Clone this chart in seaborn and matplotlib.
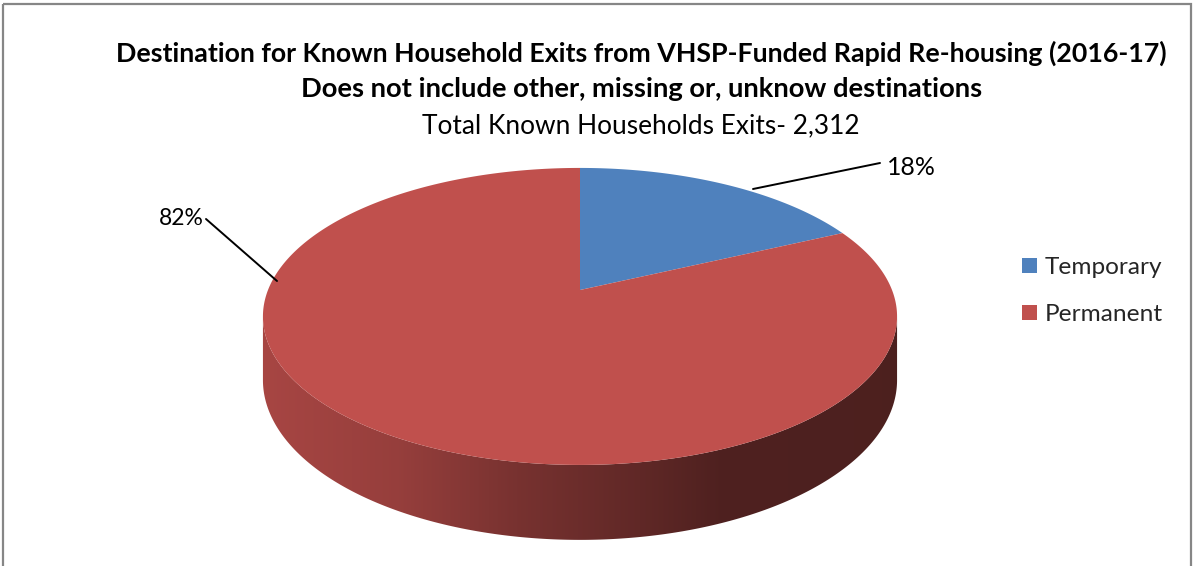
import numpy as np
import matplotlib
matplotlib.use("Agg")
import matplotlib.pyplot as plt
import matplotlib.transforms as mtransforms
from matplotlib.path import Path
from matplotlib.patches import Polygon, Rectangle
import seaborn as sns

# ---- data -------------------------------------------------------------
categories = ["Temporary", "Permanent"]
shares = [18, 82]
share_labels = ["18%", "82%"]
title_lines = [
    "Destination for Known Household Exits from VHSP-Funded Rapid Re-housing (2016-17)",
    "Does not include other, missing or, unknow destinations",
]
subtitle = "Total Known Households Exits- 2,312"
slice_colors = ["#4F81BD", "#C0504D"]

# ---- style ------------------------------------------------------------
sns.set_theme(style="white")
plt.rcParams["font.family"] = ["Lato", "DejaVu Sans"]
palette = sns.color_palette(slice_colors)

W, H = 1193, 566
fig = plt.figure(figsize=(W / 100, H / 100), dpi=100)
ax = fig.add_axes([0, 0, 1, 1])

# flat pie in unit-circle coordinates; it is tilted into 3-D below
wedges, _ = ax.pie(shares, colors=palette, startangle=90, counterclock=False,
                   wedgeprops=dict(linewidth=0))
ax.set_aspect("auto")
ax.set_xlim(0, W)
ax.set_ylim(H, 0)
ax.axis("off")

# tilted-disc geometry (pixel units)
CX, CY = 580.0, 290.0
RX, RY = 312.0, 143.8
K = 0.178          # perspective strength (back is smaller than front)
DEPTH = 61.6       # thickness of the disc


def project(xy):
    xy = np.asarray(xy, float).reshape(-1, 2)
    w = 1.0 + K * xy[:, 1]
    return np.column_stack([CX + RX * xy[:, 0] / w, CY - RY * xy[:, 1] / w]), w


class TiltTransform(mtransforms.Transform):
    input_dims = output_dims = 2
    is_separable = False
    has_inverse = False

    def transform_non_affine(self, values):
        return project(values)[0]

    def transform_path_non_affine(self, path):
        pts = []
        for seg, code in path.iter_bezier():
            if code == Path.MOVETO:
                pts.append(seg.control_points[:1])
            else:
                pts.append(seg(np.linspace(0, 1, 40)[1:]))
        return Path(project(np.vstack(pts))[0], closed=True)


tilt = TiltTransform()
for wd in wedges:
    wd.set_transform(tilt + ax.transData)
    wd.set_zorder(3)

# ---- visible rim of the disc, shaded from left (lit) to right (dark) ----
xs_stop = [265, 400, 520, 640, 720, 900]
fac_stop = [0.87, 0.78, 0.62, 0.50, 0.41, 0.40]
cols = np.arange(W)
shade = np.interp(cols, xs_stop, fac_stop)

edge_lo = 180 + np.degrees(np.arcsin(K))
edge_hi = 360 - np.degrees(np.arcsin(K))
for wd, col in zip(wedges, palette):
    t1, t2 = wd.theta1, wd.theta2
    for s in (-360, 0, 360):
        lo, hi = max(t1, edge_lo + s), min(t2, edge_hi + s)
        if hi <= lo:
            continue
        th = np.radians(np.linspace(lo, hi, 300))
        top, w = project(np.column_stack([np.cos(th), np.sin(th)]))
        bot = top + np.column_stack([np.zeros_like(w), DEPTH / w])
        rim = Polygon(np.vstack([top, bot[::-1]]), closed=True,
                      facecolor="none", edgecolor="none", transform=ax.transData)
        ax.add_patch(rim)
        img = np.ones((2, W, 3)) * np.array(col)[None, None, :] * shade[None, :, None]
        im = ax.imshow(np.clip(img, 0, 1), extent=(0, W, H, 0), aspect="auto",
                       interpolation="bilinear", zorder=2)
        im.set_clip_path(rim)
ax.set_xlim(0, W)
ax.set_ylim(H, 0)

renderer = fig.canvas.get_renderer()


def fit_width(txt, width_px):
    bb = txt.get_window_extent(renderer)
    txt.set_fontsize(txt.get_fontsize() * width_px / bb.width)
    return txt


# ---- titles -----------------------------------------------------------
fit_width(ax.text(641, 62, title_lines[0], ha="center", va="baseline",
                  fontweight="bold", fontsize=18, color="black"), 1053)
fit_width(ax.text(642, 97, title_lines[1], ha="center", va="baseline",
                  fontweight="bold", fontsize=18, color="black"), 685)
fit_width(ax.text(641, 133, subtitle, ha="center", va="baseline",
                  fontsize=16, color="black"), 438)

# ---- data labels with leader lines -----------------------------------
ax.plot([753, 880], [189, 163], color="black", lw=1.4, zorder=4)
fit_width(ax.text(887, 175, share_labels[0], ha="left", va="baseline",
                  fontsize=16, color="black"), 49)
ax.plot([206, 277], [219, 281], color="black", lw=1.4, zorder=4)
fit_width(ax.text(204, 225, share_labels[1], ha="right", va="baseline",
                  fontsize=16, color="black"), 45)

# ---- legend -----------------------------------------------------------
probe = fit_width(ax.text(0, 0, categories[0], fontsize=16), 118)
leg_fs = probe.get_fontsize()
probe.remove()
fpx = leg_fs / 0.72
leg = ax.legend(wedges, categories, loc="upper left",
                bbox_to_anchor=(1022, 257), bbox_transform=ax.transData,
                frameon=False, fontsize=leg_fs, borderpad=0, borderaxespad=0,
                handlelength=15 / fpx, handleheight=(15 / fpx - 0.245) / 0.65,
                handletextpad=8 / fpx, labelspacing=(55 - 1.2 * fpx) / fpx)

# ---- chart-area border -----------------------------------------------
ax.add_patch(Rectangle((3, 4), 1188, 600, facecolor="none", edgecolor="#868686",
                       lw=1.6, zorder=5, clip_on=False))

fig.savefig("out.png", dpi=100)
